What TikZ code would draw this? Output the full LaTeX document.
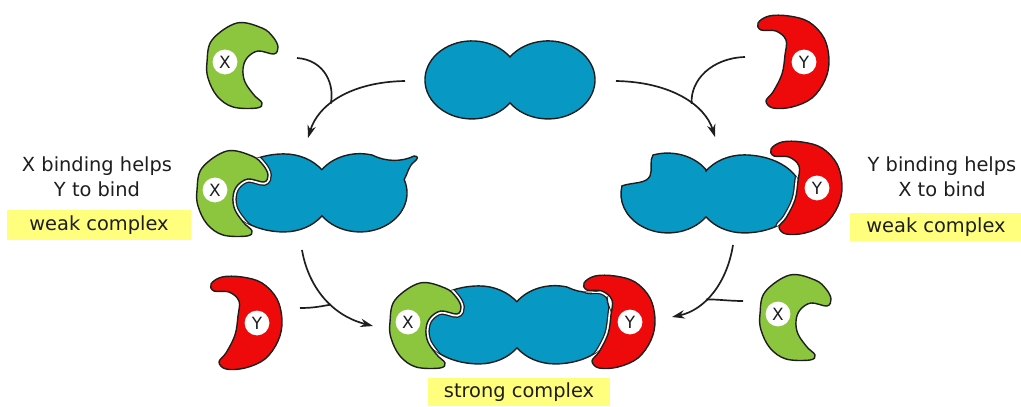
\documentclass[tikz,border=0pt]{standalone}
\usepackage{fontspec}
\setmainfont{DejaVu Sans}
\usetikzlibrary{arrows.meta}

\definecolor{protblue}{RGB}{8,152,196}
\definecolor{protgreen}{RGB}{140,198,62}
\definecolor{protred}{RGB}{238,10,10}
\definecolor{noteyellow}{RGB}{255,255,125}
\definecolor{ink}{RGB}{30,30,30}

% subunit X, round the centre of its site
\newcommand{\xunit}{plot[smooth cycle, tension=0.6] coordinates {
  (53,-15) (49,-8) (33,-11) (22,-4) (18,7) (20,20) (29,33) (37,41)
  (32,46) (8,45) (-8,34) (-17,16) (-18,0) (-13,-22) (12,-39) (37,-34) (48,-25)}}
% subunit Y
\newcommand{\yunit}{plot[smooth cycle, tension=0.6] coordinates {
  (-46,-39) (-43,-32) (-28,-31) (-18,-22) (-19,-7) (-22,12) (-31,30) (-38,39)
  (-31,46) (-12,45) (8,36) (21,18) (25,-2) (20,-24) (5,-40) (-15,-46) (-35,-46)}}

% main protein, round its waist
\newcommand{\freeprot}{(0,-23) arc[start angle=-36, end angle=-324, x radius=47, y radius=39]
  arc[start angle=144, end angle=-144, x radius=47, y radius=39] -- cycle}
% X bound on the left, Y site open on the right
\newcommand{\protx}{(0,-23) arc[start angle=-36, end angle=-90, x radius=47, y radius=39]
  arc[start angle=-90, end angle=-270, x radius=58, y radius=39]
  arc[start angle=90, end angle=36, x radius=47, y radius=39]
  arc[start angle=144, end angle=-20, x radius=47, y radius=39]
  .. controls (86,-20) and (86,-26) .. (92,-31) .. controls (96,-34) and (97,-37) .. (92,-37)
  .. controls (80,-31) and (64,-31) .. (50,-38)
  arc[start angle=-75, end angle=-144, x radius=47, y radius=39] -- cycle}
% Y bound on the right, X site open on the left
\newcommand{\proty}{(0,-23) arc[start angle=-144, end angle=-90, x radius=47, y radius=39]
  arc[start angle=-90, end angle=90, x radius=58, y radius=39]
  arc[start angle=90, end angle=144, x radius=47, y radius=39]
  arc[start angle=36, end angle=192, x radius=47, y radius=39]
  .. controls (-72,-12) and (-60,-10) .. (-56,-18) .. controls (-53,-25) and (-57,-33) .. (-53,-39)
  arc[start angle=-108, end angle=-36, x radius=47, y radius=39] -- cycle}
% both bound
\newcommand{\protxy}{(0,-23) arc[start angle=-36, end angle=-90, x radius=47, y radius=39]
  arc[start angle=-90, end angle=-270, x radius=58, y radius=39]
  arc[start angle=90, end angle=36, x radius=47, y radius=39]
  arc[start angle=144, end angle=90, x radius=47, y radius=39]
  arc[start angle=90, end angle=0, x radius=58, y radius=39]
  .. controls (96,-14) and (86,-26) .. (92,-31) .. controls (96,-34) and (97,-37) .. (92,-37)
  .. controls (80,-31) and (64,-31) .. (50,-38)
  arc[start angle=-75, end angle=-144, x radius=47, y radius=39] -- cycle}

\tikzset{
  outline/.style={draw=ink, line width=1pt},
  blueprot/.style={outline, fill=protblue},
  xprot/.style={outline, fill=protgreen},
  yprot/.style={outline, fill=protred},
  seam/.style={draw=ink, double=white, double distance=3.6pt, line width=0.9pt},
  site/.style={circle, fill=white, inner sep=0pt, minimum size=0.62cm,
    font=\fontsize{12}{12}\selectfont, text=ink},
  caption/.style={align=center, text=ink, font=\fontsize{13.8}{17.7}\selectfont},
  note/.style={fill=noteyellow, inner sep=0pt, text=ink,
    font=\fontsize{13.8}{17.7}\selectfont},
  conn/.style={draw=ink, line width=1.2pt, -{Stealth[length=9pt, width=6pt]}},
  feed/.style={draw=ink, line width=1.2pt}
}

\begin{document}
\begin{tikzpicture}[x=0.025cm, y=-0.025cm]
\useasboundingbox (0,0) rectangle (1021,407);

% sites of X and Y
\coordinate (x1) at (225,62);
\coordinate (y1) at (804,62);
\coordinate (x2) at (215,190);
\coordinate (y2) at (817,188);
\coordinate (x3) at (408,322);
\coordinate (y3) at (630,322);
\coordinate (y4) at (257,323);
\coordinate (x4) at (778,314);
% waists of the main protein
\coordinate (p0) at (510,80);
\coordinate (p1) at (322,193);
\coordinate (p2) at (706,194);
\coordinate (p3) at (517,325);

% free protein and free subunits
\path[blueprot, shift={(p0)}] \freeprot;
\path[xprot, shift={(x1)}] \xunit;
\path[yprot, shift={(y1)}] \yunit;
\path[yprot, shift={(y4)}] \yunit;
\path[xprot, shift={(x4)}] \xunit;

% X bound
\path[blueprot, shift={(p1)}] \protx;
\begin{scope}
  \clip[shift={(p1)}] \protx;
  \draw[seam, shift={(x2)}] \xunit;
\end{scope}
\path[xprot, shift={(x2)}] \xunit;

% Y bound
\path[blueprot, shift={(p2)}] \proty;
\begin{scope}
  \clip[shift={(p2)}] \proty;
  \draw[seam, shift={(y2)}] \yunit;
\end{scope}
\path[yprot, shift={(y2)}] \yunit;

% both bound
\path[blueprot, shift={(p3)}] \protxy;
\begin{scope}
  \clip[shift={(p3)}] \protxy;
  \draw[seam, shift={(x3)}] \xunit;
  \draw[seam, shift={(y3)}] \yunit;
\end{scope}
\path[xprot, shift={(x3)}] \xunit;
\path[yprot, shift={(y3)}] \yunit;

\foreach \s/\t in {x1/X, y1/Y, x2/X, y2/Y, x3/X, y3/Y, y4/Y, x4/X}
  \node[site] (lbl\s) at (\s) {\t};

% arrows
\coordinate (a1s) at (405,81);
\coordinate (a1e) at (308,138);
\coordinate (a1b) at (297,58);
\coordinate (a2s) at (616,81);
\coordinate (a2e) at (715,137);
\coordinate (a2b) at (745,57);
\coordinate (a3s) at (302,250);
\coordinate (a3e) at (373,326);
\coordinate (a3b) at (300,308);
\coordinate (a4s) at (733,245);
\coordinate (a4e) at (672,317);
\coordinate (a4b) at (743,301);

\draw[conn] (a1s) .. controls (350,82) and (318,105) .. (a1e) coordinate[pos=0.6] (j1);
\draw[feed] (a1b) .. controls (325,60) and (335,85) .. (j1);
\draw[conn] (a2s) .. controls (671,82) and (705,105) .. (a2e) coordinate[pos=0.6] (j2);
\draw[feed] (a2b) .. controls (712,58) and (690,80) .. (j2);
\draw[conn] (a3s) .. controls (308,285) and (330,315) .. (a3e) coordinate[pos=0.6] (j3);
\draw[feed] (a3b) .. controls (315,308) and (322,306) .. (j3);
\draw[conn] (a4s) .. controls (727,283) and (705,310) .. (a4e) coordinate[pos=0.6] (j4);
\draw[feed] (a4b) .. controls (728,301) and (716,299) .. (j4);

% labels
\node[caption] (capl) at (97,177) {X binding helps\\Y to bind};
\node[note, minimum width=4.58cm, minimum height=0.75cm] (weakl) at (99,225) {weak complex};
\node[caption] (capr) at (942,177) {Y binding helps\\X to bind};
\node[note, minimum width=4.3cm, minimum height=0.7cm] (weakr) at (936,227) {weak complex};
\node[note, minimum width=4.55cm, minimum height=0.68cm] (strong) at (519,392) {strong complex};
\end{tikzpicture}
\end{document}
